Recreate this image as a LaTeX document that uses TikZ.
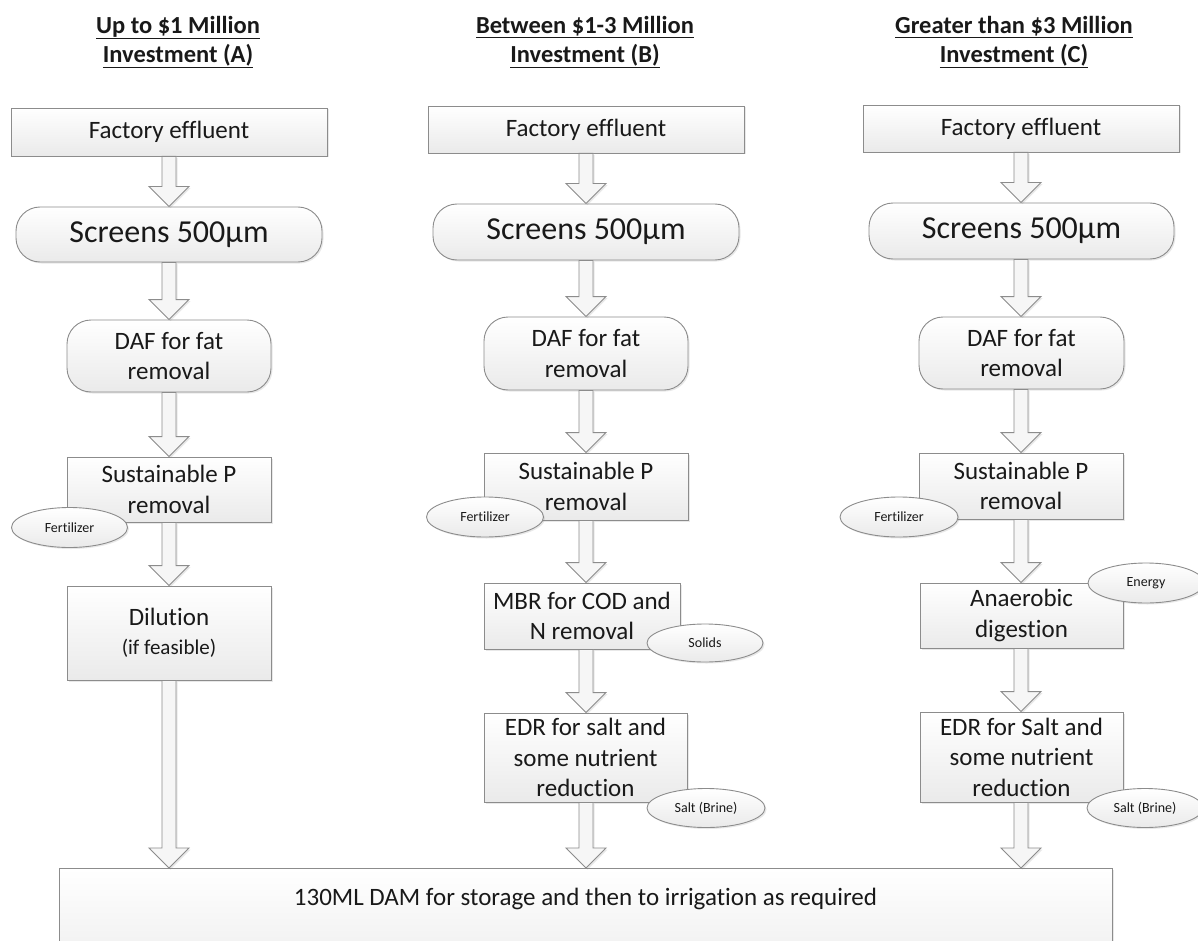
\documentclass[tikz,border=0pt]{standalone}
\usepackage{fontspec}
\setmainfont{Carlito}[Ligatures=NoCommon]
\usetikzlibrary{shapes.geometric,shadows,calc}
\definecolor{edge}{RGB}{140,140,140}
\definecolor{shadeb}{RGB}{234,234,234}
\definecolor{arrfill}{RGB}{246,246,246}
\definecolor{txt}{RGB}{25,25,25}
\tikzset{
  softshadow/.style={drop shadow={shadow xshift=1.5pt, shadow yshift=-1.5pt, opacity=0.18}},
  flowbox/.style={draw=edge, line width=0.9pt, top color=white, bottom color=shadeb,
    align=center, inner sep=0pt, text=txt, font=\fontsize{25}{30.5}\selectfont, softshadow},
  roundbox/.style={flowbox, rounded corners=24pt},
  byprod/.style={ellipse, draw=edge, line width=0.9pt, top color=white, bottom color=shadeb,
    inner sep=0pt, text=txt, font=\fontsize{14}{16}\selectfont, softshadow},
  blockarr/.style={draw=edge, line width=0.9pt, fill=arrfill, softshadow},
  header/.style={align=center, font=\bfseries\fontsize{24.5}{29}\selectfont, text=txt},
}
\newcommand{\flowarrow}[3]{%
  \path[blockarr] let \p0=(#1.south), \p1=(#2.south), \p2=(#3.north) in
  (\x0-7pt,\y1) -- (\x0-7pt,\y2+20pt) -- (\x0-20pt,\y2+20pt) -- (\x0,\y2)
  -- (\x0+20pt,\y2+20pt) -- (\x0+7pt,\y2+20pt) -- (\x0+7pt,\y1) -- cycle;}
\begin{document}
\begin{tikzpicture}[x=1pt,y=-1pt]
\clip (0,0) rectangle (1198,941);
\fill[white] (0,0) rectangle (1198,941);

% headers
\node[header] (hA) at (178,42) {\underline{Up to \$1 Million}\\\underline{Investment (A)}};
\node[header] (hB) at (585,42) {\underline{Between \$1-3 Million}\\\underline{Investment (B)}};
\node[header] (hC) at (1014,42) {\underline{Greater than \$3 Million}\\\underline{Investment (C)}};

% bottom box
\node[flowbox, anchor=north, minimum width=1053pt, text height=20pt, text depth=70pt, inner ysep=17pt]
  (dam) at (585.5,868) {130ML DAM for storage and then to irrigation as required};

% column A
\node[flowbox, minimum width=316pt, minimum height=48pt] (effA) at (169,132) {Factory effluent};
\node[roundbox, minimum width=306pt, minimum height=55pt, font=\fontsize{32}{36}\selectfont] (scrA) at (169,234.5) {Screens 500µm};
\node[roundbox, minimum width=204pt, minimum height=72pt] (dafA) at (169,356) {DAF for fat\\removal};
\node[flowbox, minimum width=204pt, minimum height=65pt] (spA) at (169,489.5) {Sustainable P\\removal};
\node[flowbox, minimum width=204pt, minimum height=94pt] (dilA) at (169,633) {Dilution\\[-2pt]{\fontsize{21}{25}\selectfont (if feasible)}};

% column B
\node[flowbox, minimum width=316pt, minimum height=47pt] (effB) at (586,129.5) {Factory effluent};
\node[roundbox, minimum width=306pt, minimum height=56pt, font=\fontsize{32}{36}\selectfont] (scrB) at (586,232) {Screens 500µm};
\node[roundbox, minimum width=204pt, minimum height=73pt] (dafB) at (586,353.5) {DAF for fat\\removal};
\node[flowbox, minimum width=204pt, minimum height=67pt] (spB) at (586,486.5) {Sustainable P\\removal};
\node[flowbox, minimum width=196pt, minimum height=66pt] (mbrB) at (582,616) {MBR for COD and\\N removal};
\node[flowbox, minimum width=203pt, minimum height=89pt] (edrB) at (585.5,757.5) {EDR for salt and\\some nutrient\\reduction};

% column C
\node[flowbox, minimum width=316pt, minimum height=47pt] (effC) at (1021,128.5) {Factory effluent};
\node[roundbox, minimum width=305pt, minimum height=56pt, font=\fontsize{32}{36}\selectfont] (scrC) at (1021.5,231) {Screens 500µm};
\node[roundbox, minimum width=205pt, minimum height=72pt] (dafC) at (1021.5,353) {DAF for fat\\removal};
\node[flowbox, minimum width=204pt, minimum height=66pt] (spC) at (1021,486) {Sustainable P\\removal};
\node[flowbox, minimum width=203pt, minimum height=65pt] (anaC) at (1021.5,615.5) {Anaerobic\\digestion};
\node[flowbox, minimum width=203pt, minimum height=90pt] (edrC) at (1021.5,757) {EDR for Salt and\\some nutrient\\reduction};

% arrows A
\flowarrow{effA}{effA}{scrA}
\flowarrow{effA}{scrA}{dafA}
\flowarrow{effA}{dafA}{spA}
\flowarrow{effA}{spA}{dilA}
\flowarrow{effA}{dilA}{dam}
% arrows B
\flowarrow{effB}{effB}{scrB}
\flowarrow{effB}{scrB}{dafB}
\flowarrow{effB}{dafB}{spB}
\flowarrow{effB}{spB}{mbrB}
\flowarrow{effB}{mbrB}{edrB}
\flowarrow{effB}{edrB}{dam}
% arrows C
\flowarrow{effC}{effC}{scrC}
\flowarrow{effC}{scrC}{dafC}
\flowarrow{effC}{dafC}{spC}
\flowarrow{effC}{spC}{anaC}
\flowarrow{effC}{anaC}{edrC}
\flowarrow{effC}{edrC}{dam}

% by-product ellipses (on top)
\node[byprod, minimum width=116pt, minimum height=40pt] (fertA) at (69.5,527.5) {Fertilizer};
\node[byprod, minimum width=117pt, minimum height=40pt] (fertB) at (485,517) {Fertilizer};
\node[byprod, minimum width=116pt, minimum height=38pt] (solB) at (705,643) {Solids};
\node[byprod, minimum width=118pt, minimum height=39pt] (saltB) at (706,808) {Salt (Brine)};
\node[byprod, minimum width=118pt, minimum height=40pt] (fertC) at (899,517) {Fertilizer};
\node[byprod, minimum width=116pt, minimum height=40pt] (enC) at (1146,583) {Energy};
\node[byprod, minimum width=116pt, minimum height=39pt] (saltC) at (1145,808) {Salt (Brine)};
\end{tikzpicture}
\end{document}
